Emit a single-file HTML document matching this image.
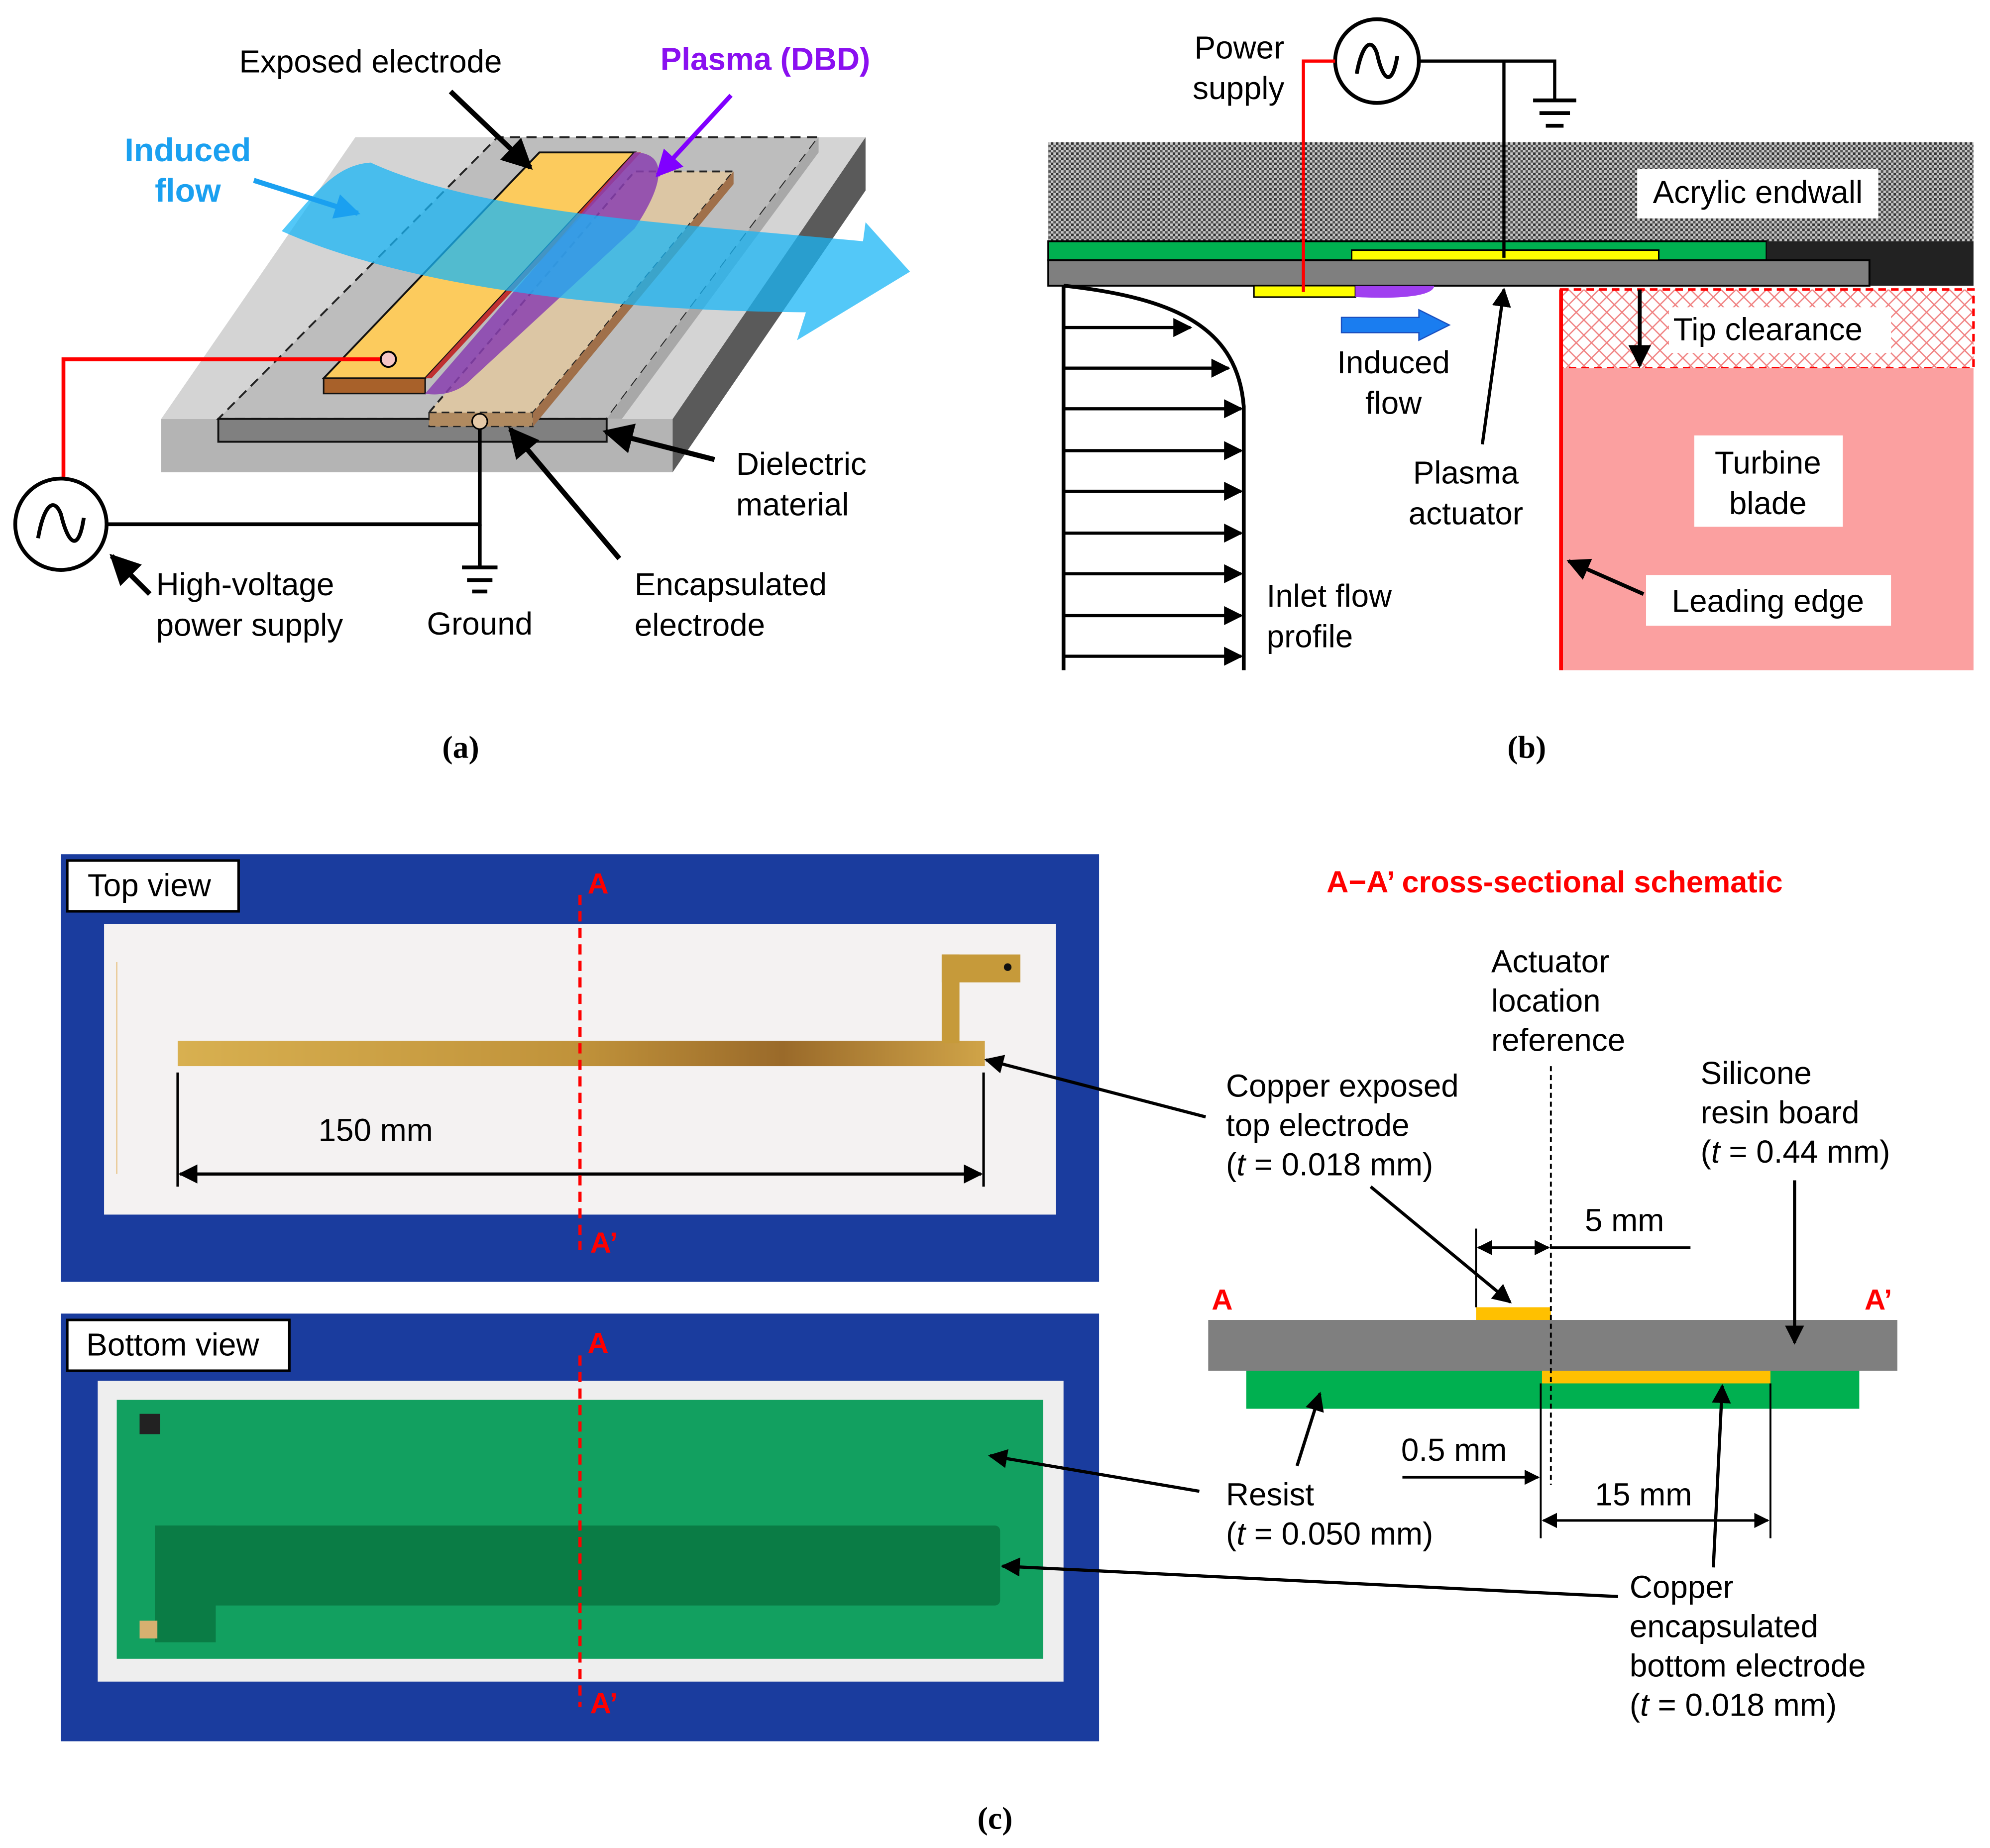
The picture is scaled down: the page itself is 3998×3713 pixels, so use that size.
<!DOCTYPE html>
<html><head><meta charset="utf-8"><style>
html,body{margin:0;padding:0;background:#fff}
svg{display:block}
text{font-family:"Liberation Sans",Arial,sans-serif;fill:#000}
.s{font-family:"Liberation Serif",serif;font-weight:bold}
</style></head><body>
<svg width="3998" height="3713" viewBox="0 0 1568 1456" xmlns="http://www.w3.org/2000/svg">
<defs>
<pattern id="dots" width="4" height="4" patternUnits="userSpaceOnUse"><rect width="4" height="4" fill="#c8c8c8"/><rect width="2" height="2" fill="#333"/><rect x="2" y="2" width="2" height="2" fill="#555"/></pattern>
<pattern id="hatch" width="12" height="12" patternUnits="userSpaceOnUse"><rect width="12" height="12" fill="#fff"/><path d="M0,0L12,12M12,0L0,12" stroke="#f08080" stroke-width="1"/></pattern>
<linearGradient id="cu" x1="0" x2="1"><stop offset="0" stop-color="#d8b050"/><stop offset="0.5" stop-color="#c0923a"/><stop offset="0.75" stop-color="#9a6a2a"/><stop offset="1" stop-color="#d0a448"/></linearGradient>
<marker id="ah" viewBox="0 0 10 10" refX="9" refY="5" markerWidth="6" markerHeight="6" orient="auto"><path d="M0,0L10,5L0,10z" fill="#000"/></marker>
<marker id="ahb" viewBox="0 0 10 10" refX="9" refY="5" markerWidth="5" markerHeight="5" orient="auto"><path d="M0,0L10,5L0,10z" fill="#1aa0f0"/></marker>
<marker id="ahp" viewBox="0 0 10 10" refX="9" refY="5" markerWidth="6" markerHeight="6" orient="auto"><path d="M0,0L10,5L0,10z" fill="#8000ff"/></marker>
<marker id="ah2" viewBox="0 0 10 10" refX="9" refY="5" markerWidth="6" markerHeight="6" orient="auto-start-reverse"><path d="M0,0L10,5L0,10z" fill="#000"/></marker>
</defs>

<!-- ===== Panel (a) ===== -->
<polygon points="127,330 530,330 530,372 127,372" fill="#b4b4b4"/>
<polygon points="530,330 682,108 682,150 530,372" fill="#5a5a5a"/>
<polygon points="127,330 530,330 682,108 280,108" fill="#d4d4d4"/>
<polygon points="172,330 478,330 645,108 392,108" fill="#bdbdbd" stroke="#222" stroke-dasharray="8,5" stroke-width="1.5"/>
<polygon points="478,330 490,330 645,120 645,108" fill="#a8a8a8"/>
<rect x="172" y="330" width="306" height="18" fill="#808080" stroke="#111" stroke-width="1.5"/>
<polygon points="338,325 420,325 578,135 500,135" fill="#dcc6a4" stroke="#222" stroke-dasharray="6,4" stroke-width="1.5"/>
<polygon points="338,325 420,325 420,336 338,336" fill="#b08a60" stroke="#222" stroke-dasharray="6,4"/>
<polygon points="420,325 578,135 578,145 420,336" fill="#a0704a"/>
<polygon points="255,298 335,298 500,120 425,120" fill="#fccb5d" stroke="#111" stroke-width="1.5"/>
<polygon points="335,298 340,298 505,120 500,120" fill="#c03030"/>
<rect x="255" y="298" width="80" height="12" fill="#a8612a" stroke="#111" stroke-width="1.2"/>
<path d="M335,310 L500,120 C520,120 530,135 500,180 L370,300 C360,310 345,312 335,310z" fill="#8a3fb0" opacity="0.85"/>
<path d="M222,182 C250,150 265,130 292,128 C380,168 520,175 680,190 L682,175 L717,214 L628,268 L635,246 C500,245 330,230 222,182z" fill="#1ab6f5" opacity="0.75"/>
<line x1="200" y1="142" x2="282" y2="168" stroke="#1aa0f0" stroke-width="4" marker-end="url(#ahb)"/>
<text x="148" y="127" font-size="26" font-weight="bold" text-anchor="middle" style="fill:#1aa0f0">Induced</text>
<text x="148" y="159" font-size="26" font-weight="bold" text-anchor="middle" style="fill:#1aa0f0">flow</text>
<text x="292" y="57" font-size="25" text-anchor="middle">Exposed electrode</text>
<text x="603" y="55" font-size="25" font-weight="bold" text-anchor="middle" style="fill:#8a10f0">Plasma (DBD)</text>
<line x1="355" y1="72" x2="418" y2="132" stroke="#000" stroke-width="4" marker-end="url(#ah)"/>
<line x1="576" y1="75" x2="518" y2="138" stroke="#8000ff" stroke-width="3.5" marker-end="url(#ahp)"/>
<polyline points="306,283 50,283 50,378" fill="none" stroke="#f00" stroke-width="3"/>
<circle cx="306" cy="283" r="6" fill="#f6c6c6" stroke="#000" stroke-width="1.5"/>
<circle cx="48" cy="413" r="36" fill="#fff" stroke="#000" stroke-width="3"/>
<path d="M30,424 C34,400 42,390 48,405 C54,430 62,435 66,408" fill="none" stroke="#000" stroke-width="3"/>
<polyline points="84,413 378,413 378,332" fill="none" stroke="#000" stroke-width="3"/>
<circle cx="378" cy="332" r="6" fill="#e5c9a7" stroke="#000" stroke-width="1.2"/>
<line x1="378" y1="413" x2="378" y2="446" stroke="#000" stroke-width="3"/>
<line x1="364" y1="447" x2="392" y2="447" stroke="#000" stroke-width="3"/>
<line x1="368" y1="457" x2="388" y2="457" stroke="#000" stroke-width="3"/>
<line x1="372" y1="466" x2="384" y2="466" stroke="#000" stroke-width="3"/>
<line x1="118" y1="468" x2="88" y2="438" stroke="#000" stroke-width="4" marker-end="url(#ah)"/>
<text x="123" y="469" font-size="25">High-voltage</text>
<text x="123" y="501" font-size="25">power supply</text>
<text x="378" y="500" font-size="25" text-anchor="middle">Ground</text>
<line x1="488" y1="440" x2="402" y2="338" stroke="#000" stroke-width="4" marker-end="url(#ah)"/>
<text x="500" y="469" font-size="25">Encapsulated</text>
<text x="500" y="501" font-size="25">electrode</text>
<line x1="563" y1="362" x2="477" y2="340" stroke="#000" stroke-width="4" marker-end="url(#ah)"/>
<text x="580" y="374" font-size="25">Dielectric</text>
<text x="580" y="406" font-size="25">material</text>
<text class="s" x="363" y="597" font-size="25" text-anchor="middle">(a)</text>

<!-- ===== Panel (b) ===== -->
<rect x="826" y="112" width="729" height="78" fill="url(#dots)"/>
<rect x="1290" y="133" width="190" height="39" fill="#fff"/>
<text x="1385" y="160" font-size="25" text-anchor="middle">Acrylic endwall</text>
<rect x="826" y="190" width="566" height="15" fill="#00b050" stroke="#000" stroke-width="1.5"/>
<rect x="1392" y="190" width="163" height="35" fill="#222"/>
<rect x="826" y="205" width="647" height="20" fill="#7f7f7f" stroke="#000" stroke-width="1.5"/>
<rect x="1065" y="197" width="242" height="8" fill="#ffff00" stroke="#000" stroke-width="1.2"/>
<rect x="988" y="225" width="80" height="9" fill="#ffff00" stroke="#000" stroke-width="1.2"/>
<path d="M1068,225 L1130,225 C1130,232 1110,236 1068,234z" fill="#a040f0"/>
<rect x="1230" y="228" width="325" height="62" fill="url(#hatch)" stroke="#f00" stroke-width="2" stroke-dasharray="6,4"/>
<rect x="1315" y="242" width="175" height="36" fill="#fff"/>
<text x="1393" y="268" font-size="25" text-anchor="middle">Tip clearance</text>
<line x1="1292" y1="228" x2="1292" y2="288" stroke="#000" stroke-width="3" marker-end="url(#ah)"/>
<rect x="1230" y="290" width="325" height="238" fill="#fba0a0"/>
<line x1="1230" y1="228" x2="1230" y2="528" stroke="#f00" stroke-width="3"/>
<rect x="1335" y="343" width="117" height="72" fill="#fff"/>
<text x="1393" y="373" font-size="25" text-anchor="middle">Turbine</text>
<text x="1393" y="405" font-size="25" text-anchor="middle">blade</text>
<rect x="1297" y="453" width="193" height="40" fill="#fff"/>
<text x="1393" y="482" font-size="25" text-anchor="middle">Leading edge</text>
<line x1="1295" y1="468" x2="1236" y2="442" stroke="#000" stroke-width="3" marker-end="url(#ah)"/>
<circle cx="1085" cy="48" r="33" fill="#fff" stroke="#000" stroke-width="3"/>
<path d="M1069,58 C1073,36 1080,28 1085,42 C1090,65 1097,68 1101,44" fill="none" stroke="#000" stroke-width="3"/>
<polyline points="1052,48 1027,48 1027,230" fill="none" stroke="#f00" stroke-width="2.5"/>
<polyline points="1118,48 1225,48 1225,78" fill="none" stroke="#000" stroke-width="2.5"/>
<line x1="1185" y1="48" x2="1185" y2="203" stroke="#000" stroke-width="2.5"/>
<line x1="1208" y1="79" x2="1242" y2="79" stroke="#000" stroke-width="3"/>
<line x1="1213" y1="89" x2="1237" y2="89" stroke="#000" stroke-width="3"/>
<line x1="1218" y1="99" x2="1232" y2="99" stroke="#000" stroke-width="3"/>
<text x="1012" y="46" font-size="25" text-anchor="end">Power</text>
<text x="1012" y="78" font-size="25" text-anchor="end">supply</text>
<line x1="838" y1="225" x2="838" y2="528" stroke="#000" stroke-width="3"/>
<path d="M838,225 C930,235 975,260 980,320 L980,528" fill="none" stroke="#000" stroke-width="3"/>
<g stroke="#000" stroke-width="2.5" marker-end="url(#ah)">
<line x1="838" y1="258" x2="938" y2="258"/>
<line x1="838" y1="290" x2="968" y2="290"/>
<line x1="838" y1="322" x2="978" y2="322"/>
<line x1="838" y1="355" x2="978" y2="355"/>
<line x1="838" y1="387" x2="978" y2="387"/>
<line x1="838" y1="420" x2="978" y2="420"/>
<line x1="838" y1="452" x2="978" y2="452"/>
<line x1="838" y1="485" x2="978" y2="485"/>
<line x1="838" y1="517" x2="978" y2="517"/>
</g>
<text x="998" y="478" font-size="25">Inlet flow</text>
<text x="998" y="510" font-size="25">profile</text>
<path d="M1057,250 L1118,250 L1118,244 L1142,256 L1118,268 L1118,262 L1057,262z" fill="#1a7df0" stroke="#1a50c0" stroke-width="1"/>
<text x="1098" y="294" font-size="25" text-anchor="middle">Induced</text>
<text x="1098" y="326" font-size="25" text-anchor="middle">flow</text>
<line x1="1168" y1="350" x2="1185" y2="228" stroke="#000" stroke-width="2.5" marker-end="url(#ah)"/>
<text x="1155" y="381" font-size="25" text-anchor="middle">Plasma</text>
<text x="1155" y="413" font-size="25" text-anchor="middle">actuator</text>
<text class="s" x="1203" y="597" font-size="25" text-anchor="middle">(b)</text>

<!-- ===== Panel (c) photos ===== -->
<rect x="48" y="673" width="818" height="337" fill="#1a3c9e"/>
<rect x="82" y="728" width="750" height="229" fill="#f4f2f2"/>
<g stroke="#e8c890" stroke-width="1"><line x1="92" y1="758" x2="92" y2="925"/></g>
<rect x="140" y="820" width="636" height="20" fill="url(#cu)"/>
<rect x="742" y="752" width="14" height="70" fill="#c69a3a"/>
<rect x="742" y="752" width="62" height="22" fill="#c69a3a"/>
<circle cx="794" cy="762" r="3" fill="#111"/>
<rect x="53" y="678" width="135" height="40" fill="#fff" stroke="#000" stroke-width="2"/>
<text x="69" y="706" font-size="25">Top view</text>
<line x1="140" y1="845" x2="140" y2="935" stroke="#000" stroke-width="2"/>
<line x1="775" y1="845" x2="775" y2="935" stroke="#000" stroke-width="2"/>
<line x1="142" y1="925" x2="773" y2="925" stroke="#000" stroke-width="2.5" marker-start="url(#ah2)" marker-end="url(#ah2)"/>
<text x="296" y="899" font-size="25" text-anchor="middle">150 mm</text>
<line x1="457" y1="705" x2="457" y2="985" stroke="#f00" stroke-width="2.5" stroke-dasharray="8,5"/>
<text x="463" y="704" font-size="23" font-weight="bold" style="fill:#f00">A</text>
<text x="465" y="987" font-size="23" font-weight="bold" style="fill:#f00">A’</text>

<rect x="48" y="1035" width="818" height="337" fill="#1a3c9e"/>
<rect x="77" y="1088" width="761" height="237" fill="#eeeeee"/>
<rect x="92" y="1103" width="730" height="204" fill="#12a060"/>
<rect x="122" y="1202" width="666" height="63" rx="4" fill="#0a7c45"/>
<rect x="122" y="1202" width="48" height="92" fill="#0a7c45"/>
<rect x="110" y="1114" width="16" height="16" fill="#222"/>
<rect x="110" y="1277" width="14" height="14" fill="#d6b070"/>
<rect x="53" y="1040" width="175" height="40" fill="#fff" stroke="#000" stroke-width="2"/>
<text x="68" y="1068" font-size="25">Bottom view</text>
<line x1="457" y1="1068" x2="457" y2="1345" stroke="#f00" stroke-width="2.5" stroke-dasharray="8,5"/>
<text x="463" y="1066" font-size="23" font-weight="bold" style="fill:#f00">A</text>
<text x="465" y="1350" font-size="23" font-weight="bold" style="fill:#f00">A’</text>

<!-- ===== cross-section ===== -->
<text x="1225" y="703" font-size="24" font-weight="bold" text-anchor="middle" style="fill:#f00">A−A’ cross-sectional schematic</text>
<rect x="952" y="1040" width="543" height="40" fill="#7f7f7f"/>
<rect x="982" y="1080" width="483" height="30" fill="#00b050"/>
<rect x="1163" y="1030" width="59" height="10" fill="#ffc000"/>
<rect x="1215" y="1080" width="180" height="10" fill="#ffc000"/>
<text x="963" y="1032" font-size="23" font-weight="bold" text-anchor="middle" style="fill:#f00">A</text>
<text x="1480" y="1032" font-size="23" font-weight="bold" text-anchor="middle" style="fill:#f00">A’</text>
<line x1="1222" y1="840" x2="1222" y2="1170" stroke="#000" stroke-width="1.5" stroke-dasharray="4,3"/>
<text x="1175" y="766" font-size="25">Actuator</text>
<text x="1175" y="797" font-size="25">location</text>
<text x="1175" y="828" font-size="25">reference</text>
<text x="966" y="864" font-size="25">Copper exposed</text>
<text x="966" y="895" font-size="25">top electrode</text>
<text x="966" y="926" font-size="25">(<tspan font-style="italic">t</tspan> = 0.018 mm)</text>
<line x1="1080" y1="935" x2="1190" y2="1026" stroke="#000" stroke-width="2.5" marker-end="url(#ah)"/>
<text x="1340" y="854" font-size="25">Silicone</text>
<text x="1340" y="885" font-size="25">resin board</text>
<text x="1340" y="916" font-size="25">(<tspan font-style="italic">t</tspan> = 0.44 mm)</text>
<line x1="1414" y1="930" x2="1414" y2="1058" stroke="#000" stroke-width="2.5" marker-end="url(#ah)"/>
<line x1="1163" y1="968" x2="1163" y2="1030" stroke="#000" stroke-width="1.5"/>
<line x1="1165" y1="983" x2="1220" y2="983" stroke="#000" stroke-width="2" marker-start="url(#ah2)" marker-end="url(#ah2)"/>
<line x1="1222" y1="983" x2="1332" y2="983" stroke="#000" stroke-width="2"/>
<text x="1280" y="970" font-size="25" text-anchor="middle">5 mm</text>
<line x1="1214" y1="1090" x2="1214" y2="1212" stroke="#000" stroke-width="1.5"/>
<line x1="1395" y1="1090" x2="1395" y2="1212" stroke="#000" stroke-width="1.5"/>
<line x1="1216" y1="1198" x2="1393" y2="1198" stroke="#000" stroke-width="2" marker-start="url(#ah2)" marker-end="url(#ah2)"/>
<text x="1295" y="1186" font-size="25" text-anchor="middle">15 mm</text>
<line x1="1105" y1="1164" x2="1212" y2="1164" stroke="#000" stroke-width="2" marker-end="url(#ah)"/>
<text x="1104" y="1151" font-size="25">0.5 mm</text>
<line x1="1022" y1="1155" x2="1040" y2="1098" stroke="#000" stroke-width="2.5" marker-end="url(#ah)"/>
<text x="966" y="1186" font-size="25">Resist</text>
<text x="966" y="1217" font-size="25">(<tspan font-style="italic">t</tspan> = 0.050 mm)</text>
<line x1="1350" y1="1235" x2="1357" y2="1092" stroke="#000" stroke-width="2.5" marker-end="url(#ah)"/>
<text x="1284" y="1259" font-size="25">Copper</text>
<text x="1284" y="1290" font-size="25">encapsulated</text>
<text x="1284" y="1321" font-size="25">bottom electrode</text>
<text x="1284" y="1352" font-size="25">(<tspan font-style="italic">t</tspan> = 0.018 mm)</text>
<line x1="950" y1="880" x2="777" y2="835" stroke="#000" stroke-width="2.5" marker-end="url(#ah)"/>
<line x1="945" y1="1175" x2="780" y2="1147" stroke="#000" stroke-width="2.5" marker-end="url(#ah)"/>
<line x1="1275" y1="1258" x2="790" y2="1234" stroke="#000" stroke-width="2.5" marker-end="url(#ah)"/>
<text class="s" x="784" y="1441" font-size="25" text-anchor="middle">(c)</text>
</svg>
</body></html>
